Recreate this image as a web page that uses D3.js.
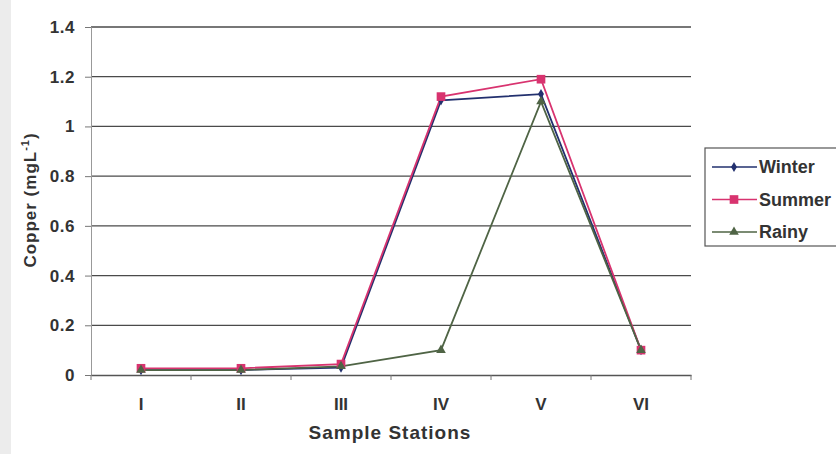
<!DOCTYPE html>
<html>
<head>
<meta charset="utf-8">
<script src="https://cdn.jsdelivr.net/npm/d3@7"></script>
<style>
  body { margin: 0; background: #fff; }
  text { font-family: "Liberation Sans", Arial, sans-serif; }
</style>
</head>
<body>
<div id="canvas"></div>
<script>
"use strict";

/* Drawing config */
let svgWidth = 836;
let svgHeight = 454;
let plotLeft = 91;
let plotRight = 691;
let plotTop = 27;
let plotBottom = 375;

/* Data */
let stations = ["I", "II", "III", "IV", "V", "VI"];
let winter = [0.02, 0.02, 0.03, 1.105, 1.13, 0.10];
let summer = [0.027, 0.027, 0.044, 1.12, 1.19, 0.10];
let rainy = [0.02, 0.02, 0.035, 0.10, 1.10, 0.10];
let yTicks = [0, 0.2, 0.4, 0.6, 0.8, 1, 1.2, 1.4];

let series = [
  { name: "Winter", values: winter, color: "#22306e", symbol: d3.symbolDiamond, size: 30 },
  { name: "Summer", values: summer, color: "#d8336f", symbol: d3.symbolSquare, size: 75 },
  { name: "Rainy", values: rainy, color: "#4f6445", symbol: d3.symbolTriangle, size: 40 }
];

let svg = d3.select("#canvas")
  .append("svg")
  .attr("width", svgWidth)
  .attr("height", svgHeight);

/* scanned page edge */
svg.append("rect")
  .attr("x", 0).attr("y", 0)
  .attr("width", 11).attr("height", svgHeight)
  .attr("fill", "#ececec");

/* Scales */
let xScale = d3.scaleBand()
  .domain(stations)
  .range([plotLeft, plotRight]);

let yScale = d3.scaleLinear()
  .domain([0, 1.4])
  .range([plotBottom, plotTop]);

/* Gridlines */
svg.selectAll(".grid")
  .data(yTicks.slice(1))
  .enter()
  .append("line")
  .attr("x1", plotLeft)
  .attr("x2", plotRight)
  .attr("y1", d => yScale(d))
  .attr("y2", d => yScale(d))
  .attr("stroke", "#4a4a4a")
  .attr("stroke-width", 1.3);

/* Y axis */
let yAxis = svg.append("g")
  .attr("transform", "translate(" + plotLeft + ",0)")
  .call(d3.axisLeft(yScale).tickValues(yTicks).tickFormat(d => String(d)).tickSize(6).tickPadding(10));
yAxis.select(".domain").attr("stroke", "#999");
yAxis.selectAll(".tick line").attr("stroke", "#777");
yAxis.selectAll("text")
  .attr("font-size", "17px")
  .attr("font-weight", "bold")
  .attr("letter-spacing", "0.5px")
  .attr("fill", "#333");

/* X axis */
let xAxis = svg.append("g")
  .attr("transform", "translate(0," + plotBottom + ")")
  .call(d3.axisBottom(xScale).tickSize(0).tickPadding(23));
xAxis.select(".domain").attr("stroke", "#555").attr("stroke-width", 1.3);
xAxis.selectAll("text")
  .attr("font-size", "17px")
  .attr("font-weight", "bold")
  .attr("fill", "#333");

/* x tick marks at category boundaries */
let boundaries = stations.map(s => xScale(s)).concat([plotRight]);
svg.selectAll(".xtick")
  .data(boundaries)
  .enter()
  .append("line")
  .attr("x1", d => d).attr("x2", d => d)
  .attr("y1", plotBottom).attr("y2", plotBottom + 5)
  .attr("stroke", "#777");

/* Axis titles */
svg.append("text")
  .attr("x", 390)
  .attr("y", 439)
  .attr("text-anchor", "middle")
  .attr("font-size", "19px")
  .attr("font-weight", "bold")
  .attr("letter-spacing", "1px")
  .attr("fill", "#333")
  .text("Sample Stations");

let yLabel = svg.append("text")
  .attr("transform", "translate(36,200) rotate(-90)")
  .attr("text-anchor", "middle")
  .attr("font-size", "17px")
  .attr("font-weight", "bold")
  .attr("letter-spacing", "1px")
  .attr("fill", "#333");
yLabel.append("tspan").text("Copper (mgL");
yLabel.append("tspan").attr("dy", -7).attr("font-size", "11px").text("-1");
yLabel.append("tspan").attr("dy", 7).text(")");

/* Lines */
let line = d3.line()
  .x((d, i) => xScale(stations[i]) + xScale.bandwidth() / 2)
  .y(d => yScale(d));

series.forEach(s => {
  svg.append("path")
    .attr("d", line(s.values))
    .attr("fill", "none")
    .attr("stroke", s.color)
    .attr("stroke-width", 1.8);
});

series.forEach(s => {
  svg.selectAll(".pt-" + s.name)
    .data(s.values)
    .enter()
    .append("path")
    .attr("d", d3.symbol().type(s.symbol).size(s.size))
    .attr("transform", (d, i) => "translate(" + (xScale(stations[i]) + xScale.bandwidth() / 2) + "," + yScale(d) + ")")
    .attr("fill", s.color);
});

/* Legend */
let legend = svg.append("g").attr("transform", "translate(705,148)");
legend.append("rect")
  .attr("x", 0).attr("y", 0)
  .attr("width", 140).attr("height", 98)
  .attr("fill", "#fff")
  .attr("stroke", "#555")
  .attr("stroke-width", 1.2);

series.forEach((s, i) => {
  let yPos = 19 + i * 32.5;
  legend.append("line")
    .attr("x1", 7).attr("x2", 52)
    .attr("y1", yPos).attr("y2", yPos)
    .attr("stroke", s.color)
    .attr("stroke-width", 1.6);
  legend.append("path")
    .attr("d", d3.symbol().type(s.symbol).size(s.size))
    .attr("transform", "translate(29," + yPos + ")")
    .attr("fill", s.color);
  legend.append("text")
    .attr("x", 54)
    .attr("y", yPos)
    .attr("dy", "0.35em")
    .attr("font-size", "18px")
    .attr("font-weight", "bold")
    .attr("fill", "#333")
    .text(s.name);
});
</script>
</body>
</html>
